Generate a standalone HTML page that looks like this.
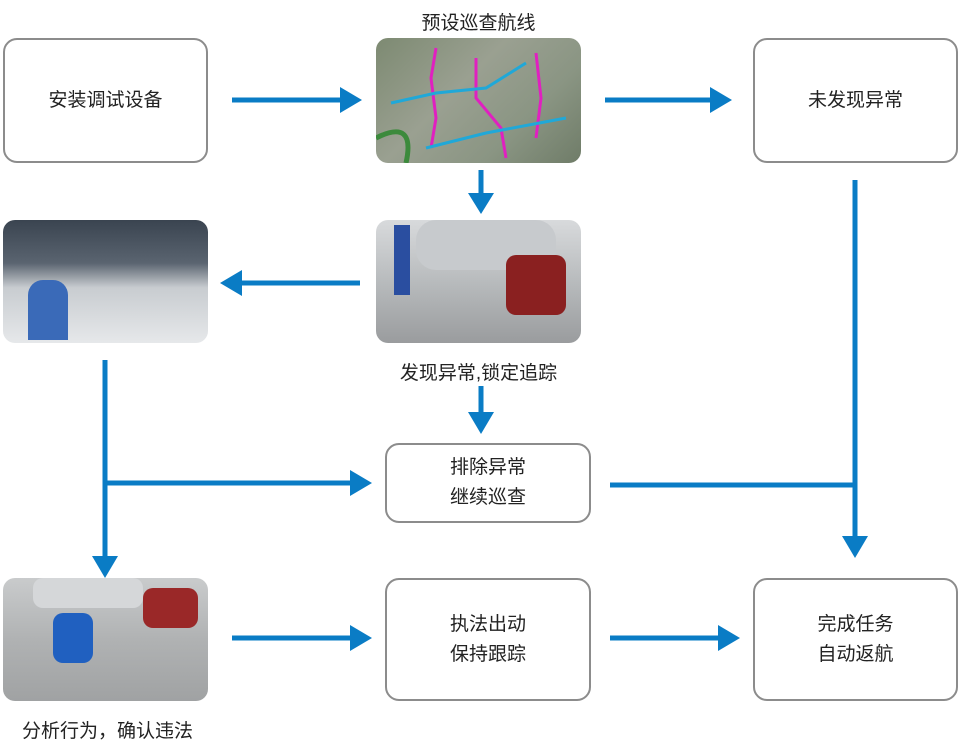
<!DOCTYPE html>
<html><head><meta charset="utf-8"><style>
body{margin:0;width:960px;height:741px;background:#fff;position:relative;overflow:hidden;font-family:"Liberation Sans","Noto Sans CJK SC",sans-serif;}
.box{position:absolute;border:2px solid #8c8c8c;border-radius:14px;box-sizing:border-box;display:flex;align-items:center;justify-content:center;text-align:center;font-size:19px;color:#222;line-height:30px;background:#fff}
.img{position:absolute;border-radius:12px;overflow:hidden}
.lbl{position:absolute;font-size:19px;color:#222;text-align:center}
svg{position:absolute;left:0;top:0}
</style></head><body>
<div class="box" style="left:3px;top:38px;width:205px;height:125px">安装调试设备</div>
<div class="img" style="left:376px;top:38px;width:205px;height:125px;background:linear-gradient(135deg,#7d8a72,#9aa091 40%,#8a9583 70%,#6f7c68)">
<svg width="205" height="125"><polyline points="60,10 55,40 60,80 55,110" stroke="#e020c0" stroke-width="3" fill="none"/><polyline points="100,20 100,60 125,90 130,120" stroke="#e020c0" stroke-width="3" fill="none"/><polyline points="160,15 165,60 160,100" stroke="#e020c0" stroke-width="3" fill="none"/><polyline points="15,65 60,55 110,50 150,25" stroke="#20a8d8" stroke-width="3" fill="none"/><polyline points="50,110 110,95 190,80" stroke="#20a8d8" stroke-width="3" fill="none"/><path d="M0,100 Q40,80 30,125" stroke="#3c8a3c" stroke-width="5" fill="none"/></svg></div>
<div class="lbl" style="left:376px;top:8px;width:205px">预设巡查航线</div>
<div class="box" style="left:753px;top:38px;width:205px;height:125px">未发现异常</div>
<div class="img" style="left:3px;top:220px;width:205px;height:123px;background:linear-gradient(180deg,#3a4450 0,#5a6470 35%,#c8ccd0 55%,#e6e8ea 100%)"><div style="position:absolute;left:25px;top:60px;width:40px;height:60px;background:#3a6ab8;border-radius:15px 15px 0 0"></div></div>
<div class="img" style="left:376px;top:220px;width:205px;height:123px;background:linear-gradient(180deg,#d8dadc,#b8bbbd 50%,#9a9c9e)"><div style="position:absolute;left:40px;top:0;width:140px;height:50px;background:#c7cacd;border-radius:20px"></div><div style="position:absolute;left:130px;top:35px;width:60px;height:60px;background:#8a2020;border-radius:10px"></div><div style="position:absolute;left:18px;top:5px;width:16px;height:70px;background:#2a4ea0"></div></div>
<div class="lbl" style="left:366px;top:358px;width:225px">发现异常,锁定追踪</div>
<div class="box" style="left:385px;top:443px;width:206px;height:80px">排除异常<br>继续巡查</div>
<div class="img" style="left:3px;top:578px;width:205px;height:123px;background:linear-gradient(180deg,#c9cbcc,#b0b2b3 50%,#a0a2a3)"><div style="position:absolute;left:30px;top:0;width:110px;height:30px;background:#d5d7d9;border-radius:10px"></div><div style="position:absolute;left:50px;top:35px;width:40px;height:50px;background:#2060c0;border-radius:10px"></div><div style="position:absolute;left:140px;top:10px;width:55px;height:40px;background:#9a2828;border-radius:10px"></div></div>
<div class="lbl" style="left:0;top:716px;width:215px">分析行为，确认违法</div>
<div class="box" style="left:385px;top:578px;width:206px;height:123px">执法出动<br>保持跟踪</div>
<div class="box" style="left:753px;top:578px;width:205px;height:123px">完成任务<br>自动返航</div>
<svg width="960" height="741">
<g stroke="#0a7cc5" stroke-width="5" fill="none">
<line x1="232" y1="100" x2="342" y2="100"/>
<line x1="605" y1="100" x2="712" y2="100"/>
<line x1="481" y1="170" x2="481" y2="195"/>
<line x1="360" y1="283" x2="240" y2="283"/>
<line x1="481" y1="386" x2="481" y2="414"/>
<line x1="105" y1="360" x2="105" y2="558"/>
<line x1="105" y1="483" x2="352" y2="483"/>
<line x1="610" y1="485" x2="855" y2="485"/>
<line x1="855" y1="180" x2="855" y2="538"/>
<line x1="232" y1="638" x2="352" y2="638"/>
<line x1="610" y1="638" x2="720" y2="638"/>
</g>
<g fill="#0a7cc5">
<polygon points="340,87 362,100 340,113"/>
<polygon points="710,87 732,100 710,113"/>
<polygon points="468,193 481,214 494,193"/>
<polygon points="242,270 220,283 242,296"/>
<polygon points="468,412 481,434 494,412"/>
<polygon points="92,556 105,578 118,556"/>
<polygon points="350,470 372,483 350,496"/>
<polygon points="842,536 855,558 868,536"/>
<polygon points="350,625 372,638 350,651"/>
<polygon points="718,625 740,638 718,651"/>
</g>
</svg>
</body></html>
